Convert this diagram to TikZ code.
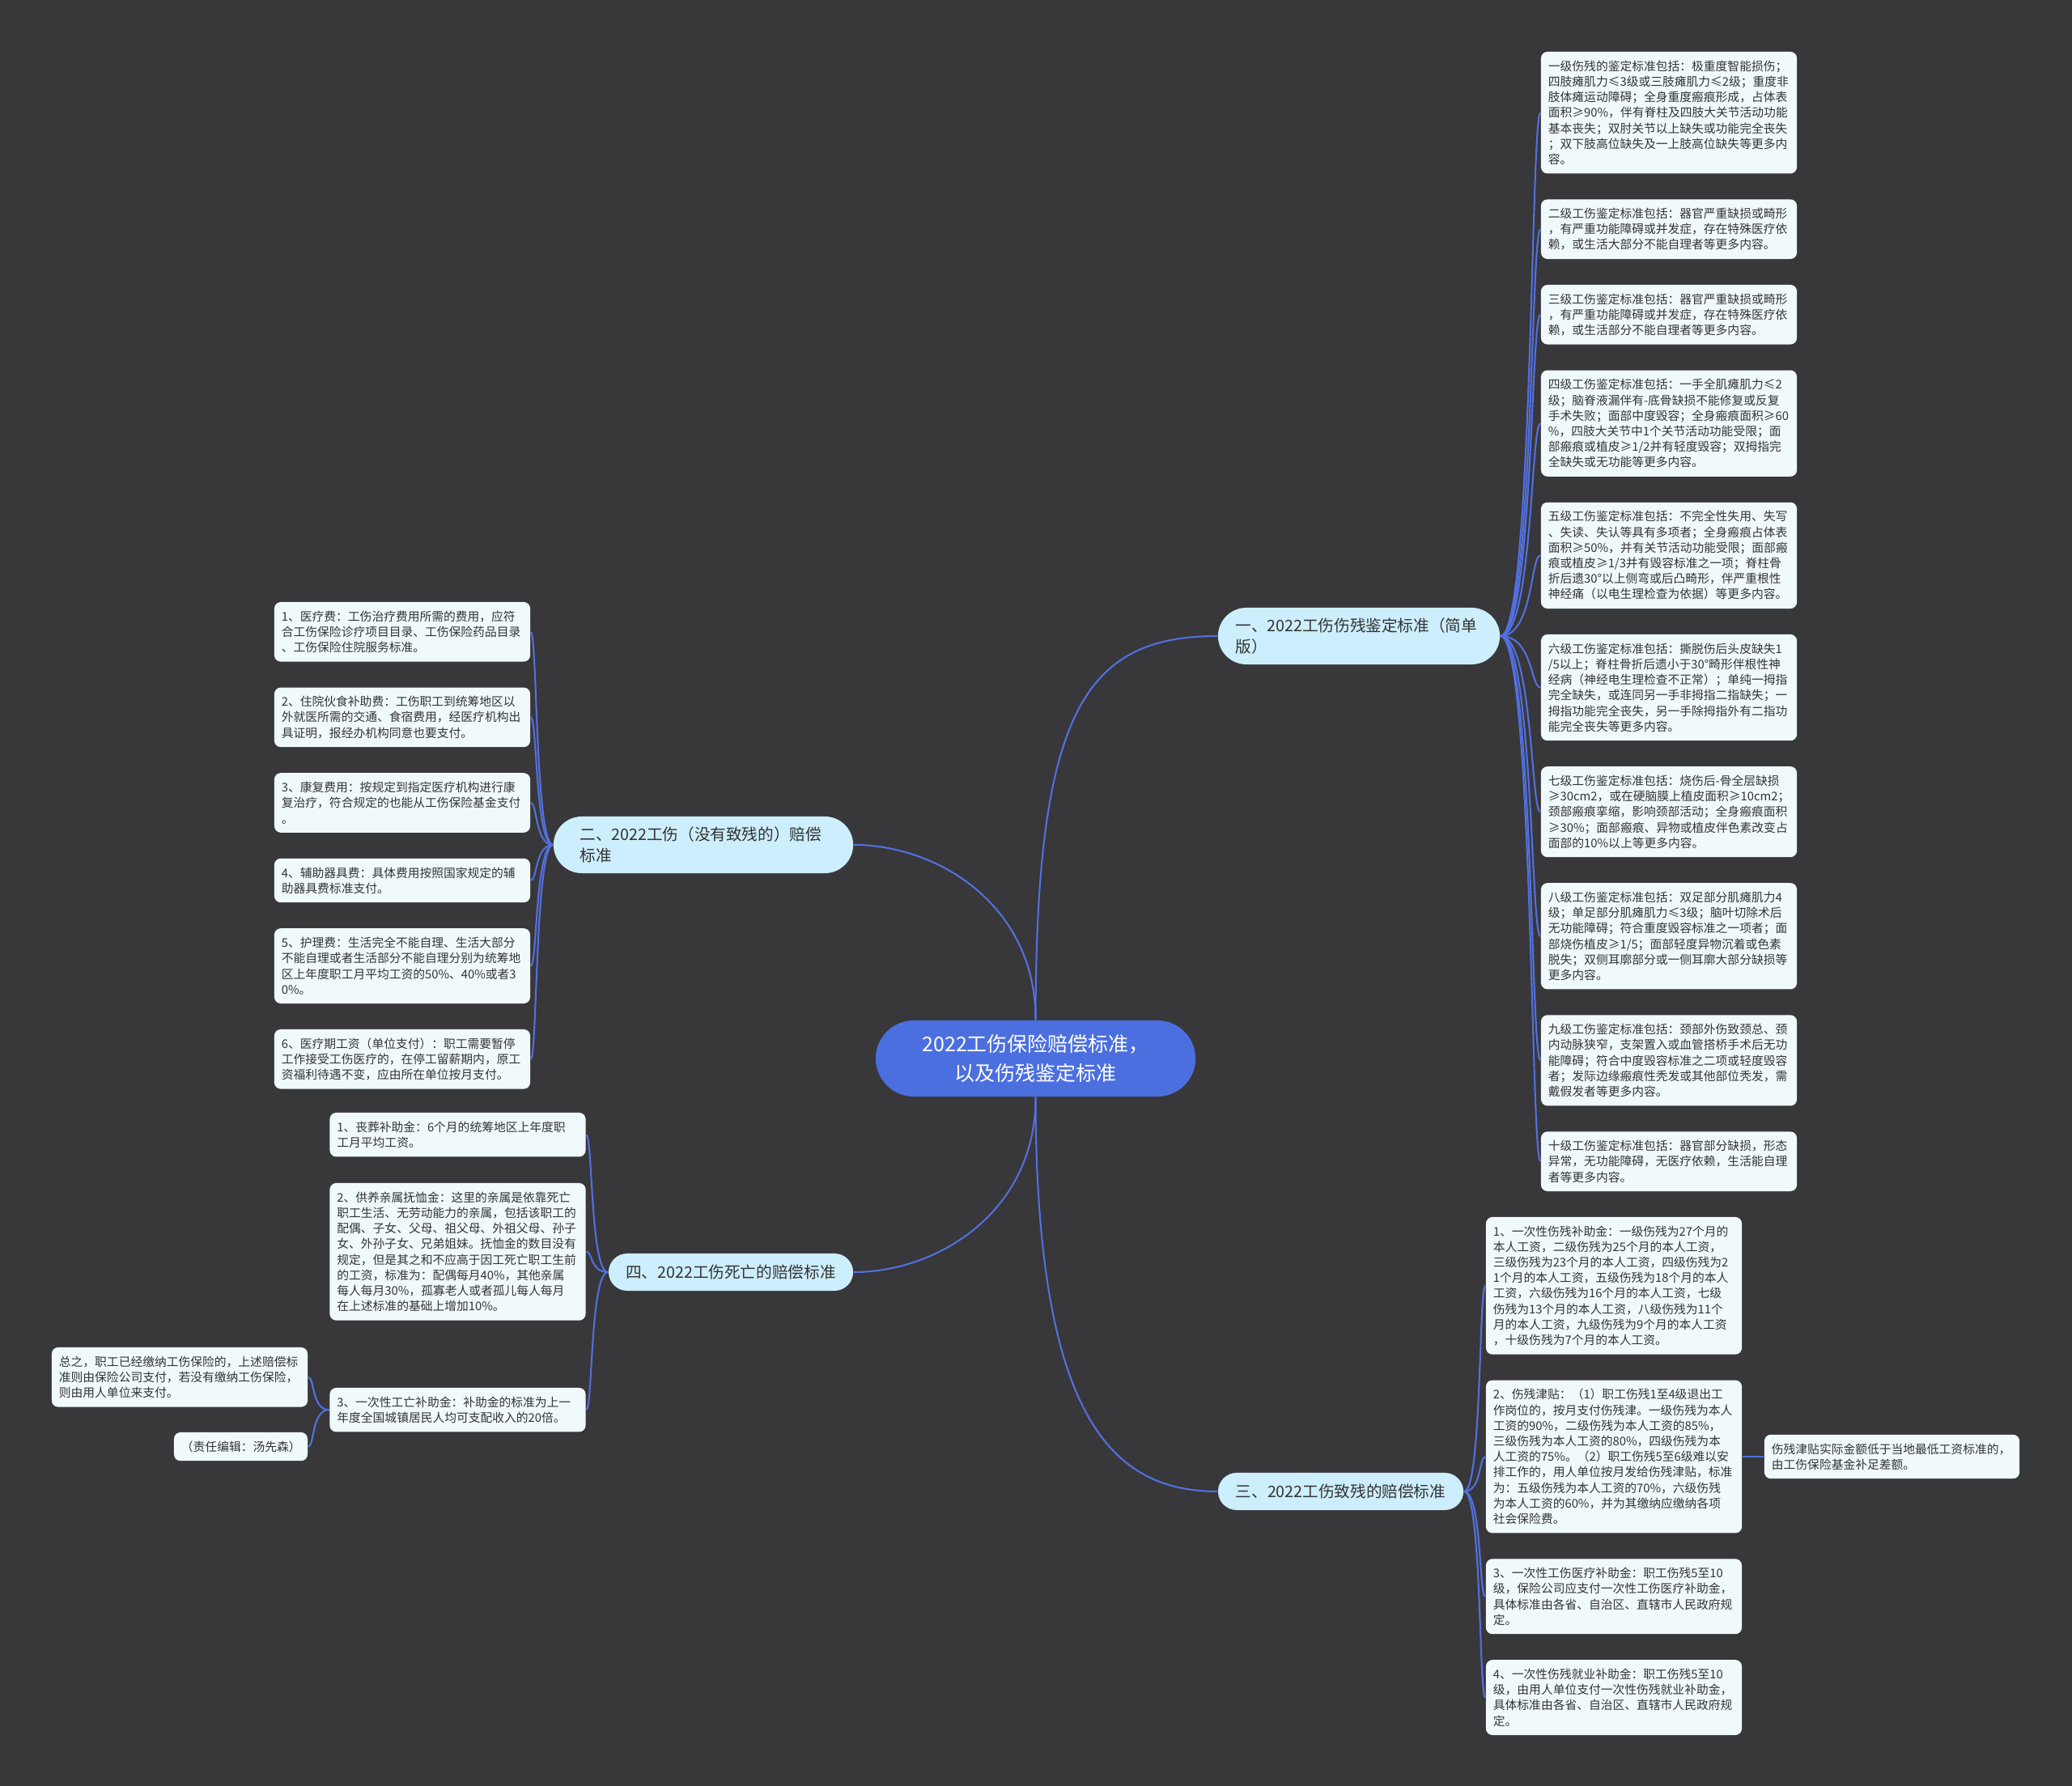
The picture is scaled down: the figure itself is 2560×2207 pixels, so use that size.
\documentclass[tikz,border=0pt]{standalone}
\usepackage{fontspec}
\setmainfont{Noto Sans CJK SC}
\definecolor{bg}{RGB}{56,55,57}
\definecolor{edge}{RGB}{82,112,222}
\definecolor{ctr}{RGB}{76,111,224}
\definecolor{brc}{RGB}{205,238,252}
\definecolor{lfc}{RGB}{240,250,252}
\definecolor{txc}{RGB}{51,51,51}
\tikzset{
  leaf/.style={fill=lfc, rounded corners=0.08cm, text=txc, align=left, text width=2.98cm,
    inner xsep=0.09cm, inner ysep=0pt, font=\fontsize{4.2}{5.46}\selectfont},
  nl/.style={minimum height={#1*0.192cm+0.16cm}},
  branch/.style={fill=brc, text=txc, align=left, inner ysep=0pt,
    font=\fontsize{5.58}{7.4}\selectfont},
  centre/.style={fill=ctr, text=white, align=center, minimum width=3.95cm, minimum height=0.94cm,
    rounded corners=0.47cm, font=\fontsize{7.1}{10}\selectfont},
  conn/.style={draw=edge, line width=0.6pt},
}
\begin{document}
\begin{tikzpicture}[x=0.01cm,y=-0.01cm]
\fill[bg] (0,0) rectangle (2560,2207);
\useasboundingbox (0,0) rectangle (2560,2207);

% centre
\node[centre] (c) at (1279.5,1308) {2022工伤保险赔偿标准，\\以及伤残鉴定标准};

% branches
\node[branch, text width=3.05cm, inner xsep=0.215cm, minimum height=0.70cm, rounded corners=0.35cm] (b1) at (1679,786) {一、2022工伤伤残鉴定标准（简单\\版）};
\node[branch, text width=3.05cm, inner xsep=0.325cm, minimum height=0.70cm, rounded corners=0.35cm] (b2) at (869,1044) {二、2022工伤（没有致残的）赔偿\\标准};
\node[branch, align=center, minimum width=3.02cm, minimum height=0.46cm, rounded corners=0.23cm] (b4) at (903,1572) {四、2022工伤死亡的赔偿标准};
\node[branch, align=center, minimum width=3.03cm, minimum height=0.46cm, rounded corners=0.23cm] (b3) at (1656.5,1843) {三、2022工伤致残的赔偿标准};

\draw[conn] (c.north) .. controls (1280,880) and (1340,786) .. (b1.west);
\draw[conn] (c.north) .. controls (1280,1120) and (1160,1044) .. (b2.east);
\draw[conn] (c.south) .. controls (1280,1496) and (1160,1572) .. (b4.east);
\draw[conn] (c.south) .. controls (1280,1745) and (1370,1843) .. (b3.west);

% right leaves (branch 1)
\node[leaf, nl=7] (r1) at (2062,139.2) {一级伤残的鉴定标准包括：极重度智能损伤；\\四肢瘫肌力≤3级或三肢瘫肌力≤2级；重度非\\肢体瘫运动障碍；全身重度瘢痕形成，占体表\\面积≥90\%，伴有脊柱及四肢大关节活动功能\\基本丧失；双肘关节以上缺失或功能完全丧失\\；双下肢高位缺失及一上肢高位缺失等更多内\\容。};
\node[leaf, nl=3] (r2) at (2062,283.2) {二级工伤鉴定标准包括：器官严重缺损或畸形\\，有严重功能障碍或并发症，存在特殊医疗依\\赖，或生活大部分不能自理者等更多内容。};
\node[leaf, nl=3] (r3) at (2062,388.8) {三级工伤鉴定标准包括：器官严重缺损或畸形\\，有严重功能障碍或并发症，存在特殊医疗依\\赖，或生活部分不能自理者等更多内容。};
\node[leaf, nl=6] (r4) at (2062,523.2) {四级工伤鉴定标准包括：一手全肌瘫肌力≤2\\级；脑脊液漏伴有-底骨缺损不能修复或反复\\手术失败；面部中度毁容；全身瘢痕面积≥60\\\%，四肢大关节中1个关节活动功能受限；面\\部瘢痕或植皮≥1/2并有轻度毁容；双拇指完\\全缺失或无功能等更多内容。};
\node[leaf, nl=6] (r5) at (2062,686.4) {五级工伤鉴定标准包括：不完全性失用、失写\\、失读、失认等具有多项者；全身瘢痕占体表\\面积≥50\%，并有关节活动功能受限；面部瘢\\痕或植皮≥1/3并有毁容标准之一项；脊柱骨\\折后遗30°以上侧弯或后凸畸形，伴严重根性\\神经痛（以电生理检查为依据）等更多内容。};
\node[leaf, nl=6] (r6) at (2062,849.6) {六级工伤鉴定标准包括：撕脱伤后头皮缺失1\\/5以上；脊柱骨折后遗小于30°畸形伴根性神\\经病（神经电生理检查不正常）；单纯一拇指\\完全缺失，或连同另一手非拇指二指缺失；一\\拇指功能完全丧失，另一手除拇指外有二指功\\能完全丧失等更多内容。};
\node[leaf, nl=5] (r7) at (2062,1003.2) {七级工伤鉴定标准包括：烧伤后-骨全层缺损\\≥30cm2，或在硬脑膜上植皮面积≥10cm2；\\颈部瘢痕挛缩，影响颈部活动；全身瘢痕面积\\≥30\%；面部瘢痕、异物或植皮伴色素改变占\\面部的10\%以上等更多内容。};
\node[leaf, nl=6] (r8) at (2062,1156.8) {八级工伤鉴定标准包括：双足部分肌瘫肌力4\\级；单足部分肌瘫肌力≤3级；脑叶切除术后\\无功能障碍；符合重度毁容标准之一项者；面\\部烧伤植皮≥1/5；面部轻度异物沉着或色素\\脱失；双侧耳廓部分或一侧耳廓大部分缺损等\\更多内容。};
\node[leaf, nl=5] (r9) at (2062,1310.4) {九级工伤鉴定标准包括：颈部外伤致颈总、颈\\内动脉狭窄，支架置入或血管搭桥手术后无功\\能障碍；符合中度毁容标准之二项或轻度毁容\\者；发际边缘瘢痕性秃发或其他部位秃发，需\\戴假发者等更多内容。};
\node[leaf, nl=3] (r10) at (2062,1435.2) {十级工伤鉴定标准包括：器官部分缺损，形态\\异常，无功能障碍，无医疗依赖，生活能自理\\者等更多内容。};
\foreach \n in {r1,r2,r3,r4,r5,r6,r7,r8,r9,r10}
  \draw[conn] (b1.east) .. controls +(40,0) and +(-12,0) .. (\n.west);

% left leaves (branch 2)
\node[leaf, nl=3] (l1) at (497,780.8) {1、医疗费：工伤治疗费用所需的费用，应符\\合工伤保险诊疗项目目录、工伤保险药品目录\\、工伤保险住院服务标准。};
\node[leaf, nl=3] (l2) at (497,886.4) {2、住院伙食补助费：工伤职工到统筹地区以\\外就医所需的交通、食宿费用，经医疗机构出\\具证明，报经办机构同意也要支付。};
\node[leaf, nl=3] (l3) at (497,992) {3、康复费用：按规定到指定医疗机构进行康\\复治疗，符合规定的也能从工伤保险基金支付\\。};
\node[leaf, nl=2] (l4) at (497,1088) {4、辅助器具费：具体费用按照国家规定的辅\\助器具费标准支付。};
\node[leaf, nl=4] (l5) at (497,1193.6) {5、护理费：生活完全不能自理、生活大部分\\不能自理或者生活部分不能自理分别为统筹地\\区上年度职工月平均工资的50\%、40\%或者3\\0\%。};
\node[leaf, nl=3] (l6) at (497,1308.8) {6、医疗期工资（单位支付）：职工需要暂停\\工作接受工伤医疗的，在停工留薪期内，原工\\资福利待遇不变，应由所在单位按月支付。};
\foreach \n in {l1,l2,l3,l4,l5,l6}
  \draw[conn] (b2.west) .. controls +(-22,0) and +(8,0) .. (\n.east);

% branch 4 leaves
\node[leaf, nl=2] (d1) at (565.5,1402.2) {1、丧葬补助金：6个月的统筹地区上年度职\\工月平均工资。};
\node[leaf, nl=8] (d2) at (565.5,1546.8) {2、供养亲属抚恤金：这里的亲属是依靠死亡\\职工生活、无劳动能力的亲属，包括该职工的\\配偶、子女、父母、祖父母、外祖父母、孙子\\女、外孙子女、兄弟姐妹。抚恤金的数目没有\\规定，但是其之和不应高于因工死亡职工生前\\的工资，标准为：配偶每月40\%，其他亲属\\每人每月30\%，孤寡老人或者孤儿每人每月\\在上述标准的基础上增加10\%。};
\node[leaf, nl=2] (d3) at (565.5,1742.2) {3、一次性工亡补助金：补助金的标准为上一\\年度全国城镇居民人均可支配收入的20倍。};
\foreach \n in {d1,d2,d3}
  \draw[conn] (b4.west) .. controls +(-22,0) and +(8,0) .. (\n.east);

\node[leaf, nl=3] (n1) at (222,1701.8) {总之，职工已经缴纳工伤保险的，上述赔偿标\\准则由保险公司支付，若没有缴纳工伤保险，\\则由用人单位来支付。};
\node[leaf, nl=1, text width=1.47cm, align=center] (n2) at (297.5,1787.6) {（责任编辑：汤先森）};
\foreach \n in {n1,n2}
  \draw[conn] (d3.west) .. controls +(-22,0) and +(8,0) .. (\n.east);

% branch 3 leaves
\node[leaf, nl=8] (t1) at (1994,1588.8) {1、一次性伤残补助金：一级伤残为27个月的\\本人工资，二级伤残为25个月的本人工资，\\三级伤残为23个月的本人工资，四级伤残为2\\1个月的本人工资，五级伤残为18个月的本人\\工资，六级伤残为16个月的本人工资，七级\\伤残为13个月的本人工资，八级伤残为11个\\月的本人工资，九级伤残为9个月的本人工资\\，十级伤残为7个月的本人工资。};
\node[leaf, nl=9] (t2) at (1994,1800) {2、伤残津贴：（1）职工伤残1至4级退出工\\作岗位的，按月支付伤残津。一级伤残为本人\\工资的90\%，二级伤残为本人工资的85\%，\\三级伤残为本人工资的80\%，四级伤残为本\\人工资的75\%。（2）职工伤残5至6级难以安\\排工作的，用人单位按月发给伤残津贴，标准\\为：五级伤残为本人工资的70\%，六级伤残\\为本人工资的60\%，并为其缴纳应缴纳各项\\社会保险费。};
\node[leaf, nl=4] (t3) at (1994,1972.8) {3、一次性工伤医疗补助金：职工伤残5至10\\级，保险公司应支付一次性工伤医疗补助金，\\具体标准由各省、自治区、直辖市人民政府规\\定。};
\node[leaf, nl=4] (t4) at (1994,2097.6) {4、一次性伤残就业补助金：职工伤残5至10\\级，由用人单位支付一次性伤残就业补助金，\\具体标准由各省、自治区、直辖市人民政府规\\定。};
\foreach \n in {t1,t2,t3,t4}
  \draw[conn] (b3.east) .. controls +(22,0) and +(-8,0) .. (\n.west);

\node[leaf, nl=2, text width=2.97cm] (s1) at (2337.5,1800) {伤残津贴实际金额低于当地最低工资标准的，\\由工伤保险基金补足差额。};
\draw[conn] (t2.east) -- (s1.west);
\end{tikzpicture}
\end{document}
